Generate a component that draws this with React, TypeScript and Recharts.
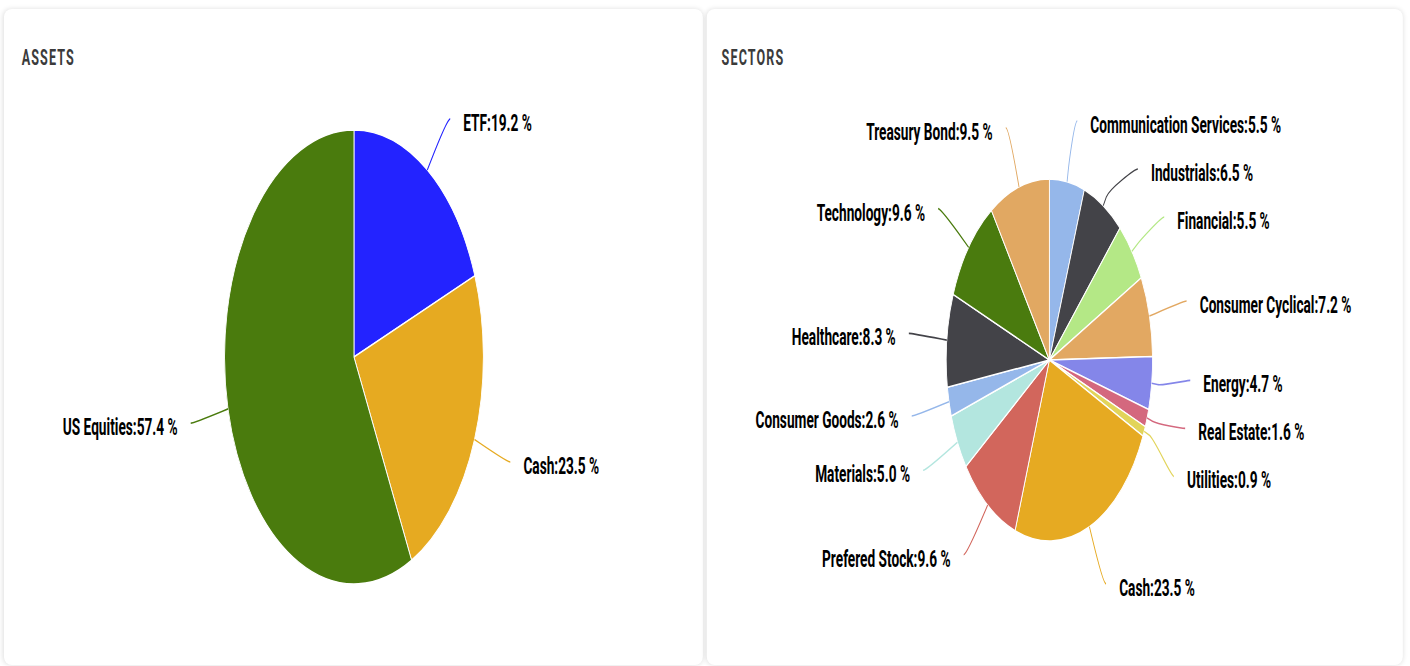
import React from 'react';
import { PieChart, Pie, Cell } from 'recharts';

// asset split
const assetNames = ['ETF', 'Cash', 'US Equities'];
const assetValues = [19.2, 23.5, 57.4];
const assetColors = ['#2323ff', '#e6aa21', '#4a7b0d'];

// sector split, clockwise from 12 o'clock
const sectorNames = [
  'Communication Services', 'Industrials', 'Financial', 'Consumer Cyclical', 'Energy',
  'Real Estate', 'Utilities', 'Cash', 'Prefered Stock', 'Materials', 'Consumer Goods',
  'Healthcare', 'Technology', 'Treasury Bond',
];
const sectorValues = [5.5, 6.5, 5.5, 7.2, 4.7, 1.6, 0.9, 23.5, 9.6, 5.0, 2.6, 8.3, 9.6, 9.5];
const sectorColors = [
  '#95b7ea', '#434348', '#b4e886', '#e2a862', '#8486e9', '#d4687e', '#e2d45a',
  '#e6aa22', '#d2665c', '#b3e6df', '#95b7ea', '#434348', '#4a7b0e', '#e1a862',
];

// the whole picture is squeezed horizontally, pies look like ellipses
const SQUEEZE = 0.57;
const VW = 1410 / SQUEEZE;
const RAD = Math.PI / 180;
const STEP = 48;
const GAP = 28;

type Slot = { side: number; y: number };

// spread labels on each side so they don't overlap (roughly like highcharts does)
function spreadLabels(values: number[], cy: number, R: number, minY: number): Slot[] {
  const total = values.reduce((a, b) => a + b, 0);
  let acc = 0;
  const natural = values.map(v => {
    const mid = ((acc + v / 2) / total) * 2 * Math.PI;
    acc += v;
    return { side: Math.sin(mid) >= 0 ? 1 : -1, y: cy - R * Math.cos(mid) };
  });
  const out: Slot[] = natural.map(n => ({ ...n }));
  [1, -1].forEach(side => {
    const idx = natural
      .map((_, i) => i)
      .filter(i => natural[i].side === side)
      .sort((a, b) => natural[a].y - natural[b].y);
    type Group = { members: number[]; top: number };
    const place = (members: number[]): Group => {
      const m = members.reduce((s, i, k) => s + natural[i].y - k * STEP, 0) / members.length;
      return { members, top: Math.max(minY, m) };
    };
    const groups: Group[] = [];
    idx.forEach(i => {
      let g = place([i]);
      while (groups.length) {
        const prev = groups[groups.length - 1];
        if (prev.top + prev.members.length * STEP <= g.top) break;
        groups.pop();
        g = place([...prev.members, ...g.members]);
      }
      groups.push(g);
    });
    groups.forEach(g => g.members.forEach((i, k) => { out[i].y = g.top + k * STEP; }));
  });
  return out;
}

const makeLabel = (names: string[], colors: string[], slots: Slot[], R: number) => (props: any) => {
  const { cx, cy, midAngle, outerRadius, index, value } = props;
  const s = slots[index];
  const c = Math.cos(-midAngle * RAD);
  const sn = Math.sin(-midAngle * RAD);
  const ex = cx + outerRadius * c;
  const ey = cy + outerRadius * sn;
  const bx = cx + (outerRadius + 10) * c;
  const by = cy + (outerRadius + 10) * sn;
  const y = cy + s.y; // slots are relative to the centre
  const dy = s.y;
  const xEnd = cx + s.side * Math.sqrt(Math.max(0, R * R - dy * dy));
  const d = `M${xEnd + s.side * 5},${y} C${xEnd},${y} ${2 * bx - ex},${2 * by - ey} ${bx},${by} L${ex},${ey}`;
  return (
    <g>
      <path d={d} fill="none" stroke={colors[index]} strokeWidth={1.6} />
      <text
        x={xEnd + s.side * GAP}
        y={y + 4}
        textAnchor={s.side > 0 ? 'start' : 'end'}
        dominantBaseline="central"
        fill="#000"
        fontSize={24}
        fontWeight={700}
        fontFamily="Roboto, sans-serif"
      >
        {`${names[index]}:${Number(value).toFixed(1)} %`}
      </text>
    </g>
  );
};

const cardStyle: React.CSSProperties = {
  position: 'absolute',
  top: 9,
  height: 656,
  background: '#fff',
  borderRadius: '14px / 8px',
  boxShadow: '0 0 7px rgba(0,0,0,0.13)',
};

const titleStyle: React.CSSProperties = {
  position: 'absolute',
  top: 36,
  fontFamily: 'Roboto, sans-serif',
  fontWeight: 700,
  fontSize: 22,
  letterSpacing: 2,
  color: '#3b3b3b',
  zIndex: 1,
};

interface CardProps {
  title: string;
  titleLeft: number;
  left: number;
  width: number;
  names: string[];
  values: number[];
  colors: string[];
  cx: number;
  cy: number;
  radius: number;
}

const PieCard: React.FC<CardProps> = ({ title, titleLeft, left, width, names, values, colors, cx, cy, radius }) => {
  const R = radius + 62;
  // label rows worked out around the centre (0), top limit just under the label ring
  const slots = spreadLabels(values, 0, R, -R + 4);
  const data = names.map((name, i) => ({ name, value: values[i] }));
  return (
    <div style={{ ...cardStyle, left, width }}>
      <div style={{ ...titleStyle, left: titleLeft }}>{title}</div>
      <PieChart width={width} height={656} style={{ position: 'absolute', left: 0, top: 0 }}>
        <Pie
          data={data}
          dataKey="value"
          nameKey="name"
          cx={cx}
          cy={cy}
          outerRadius={radius}
          startAngle={90}
          endAngle={-270}
          stroke="#fff"
          strokeWidth={1.5}
          label={makeLabel(names, colors, slots, R)}
          labelLine={false}
          isAnimationActive={false}
        >
          {data.map((d, i) => (
            <Cell key={d.name} fill={colors[i]} />
          ))}
        </Pie>
      </PieChart>
    </div>
  );
};

export default function App() {
  return (
    <div style={{ position: 'absolute', left: 0, top: 0, width: 1410, height: 666, overflow: 'hidden', background: '#fff' }}>
      <div style={{ position: 'absolute', left: 0, top: 0, width: VW, height: 666, transform: `scaleX(${SQUEEZE})`, transformOrigin: '0 0' }}>
        <PieCard
          title="ASSETS"
          titleLeft={31}
          left={7}
          width={1226}
          names={assetNames}
          values={assetValues}
          colors={assetColors}
          cx={609}
          cy={343}
          radius={227}
        />
        <PieCard
          title="SECTORS"
          titleLeft={26}
          left={1240}
          width={1221}
          names={sectorNames}
          values={sectorValues}
          colors={sectorColors}
          cx={596}
          cy={346}
          radius={181}
        />
      </div>
    </div>
  );
}
